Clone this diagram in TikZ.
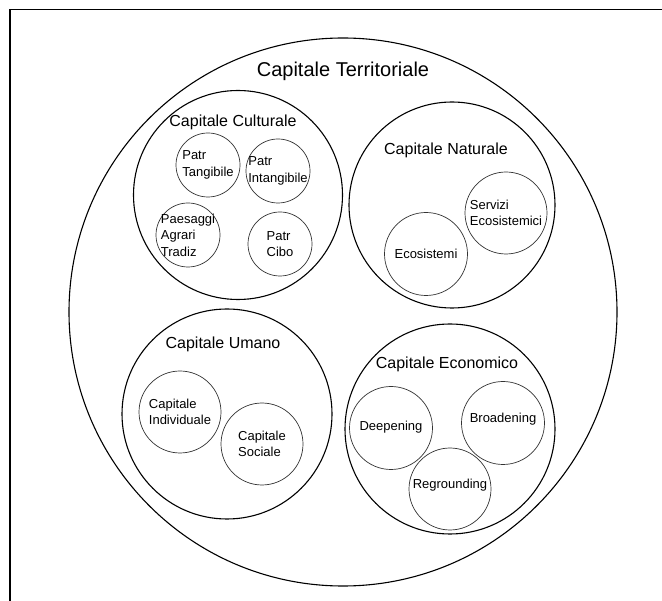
\documentclass[tikz,border=0pt]{standalone}
\usepackage{fontspec}
\setmainfont{Liberation Sans}

\begin{document}
\begin{tikzpicture}[x=1pt,y=-1pt,
    ring/.style={draw,circle,inner sep=0pt,line width=1.1pt},
    inring/.style={draw=black!80,circle,inner sep=0pt,line width=0.7pt},
    capname/.style={anchor=base,font=\fontsize{16}{19}\selectfont},
    words/.style={align=left,inner sep=0pt,font=\fontsize{13}{16.5}\selectfont}]
    \useasboundingbox (0,0) rectangle (662,601);
    \draw[line width=1.4pt] (10,601) -- (10,9.5) -- (662,9.5);

    \node[ring,minimum size=548pt] (terr) at (343,312) {};
    \node[capname,font=\fontsize{20}{24}\selectfont] (terrN) at (343,77) {Capitale Territoriale};

    % culturale
    \node[ring,minimum size=209pt] (cult) at (238,195) {};
    \node[capname] (cultN) at (233,127) {Capitale Culturale};
    \node[inring,minimum size=64pt] (tang) at (208,165) {};
    \node[inring,minimum size=64pt] (intang) at (278,171) {};
    \node[inring,minimum size=64pt] (paes) at (188,235) {};
    \node[inring,minimum size=64pt] (cibo) at (280,244) {};
    \node[words] (tangW) at (tang) {Patr\\Tangibile};
    \node[words] (intangW) at (intang) {Patr\\Intangibile};
    \node[words] (paesW) at (paes) {Paesaggi\\Agrari\\Tradiz};
    \node[words] (ciboW) at (cibo) {Patr\\Cibo};

    % naturale
    \node[ring,minimum size=206pt] (nat) at (452,205) {};
    \node[capname] (natN) at (446,155) {Capitale Naturale};
    \node[inring,minimum size=82pt] (serv) at (506,213) {};
    \node[inring,minimum size=83pt] (ecos) at (426,254) {};
    \node[words] (servW) at (serv) {Servizi\\Ecosistemici};
    \node[words] (ecosW) at (ecos) {Ecosistemi};

    % umano
    \node[ring,minimum size=210pt] (uman) at (227,414) {};
    \node[capname] (umanN) at (223,349) {Capitale Umano};
    \node[inring,minimum size=82pt] (indiv) at (180,412) {};
    \node[inring,minimum size=82pt] (soc) at (262,444) {};
    \node[words] (indivW) at (indiv) {Capitale\\Individuale};
    \node[words] (socW) at (soc) {Capitale\\Sociale};

    % economico
    \node[ring,minimum size=210pt] (econ) at (450,429) {};
    \node[capname] (econN) at (447,369) {Capitale Economico};
    \node[inring,minimum size=83pt] (deep) at (391,428) {};
    \node[inring,minimum size=83pt] (broad) at (503,423) {};
    \node[inring,minimum size=82pt] (regr) at (450,489) {};
    \node[words] (deepW) at (391,427) {Deepening};
    \node[words] (broadW) at (503,419) {Broadening};
    \node[words] (regrW) at (450,485) {Regrounding};
\end{tikzpicture}
\end{document}
